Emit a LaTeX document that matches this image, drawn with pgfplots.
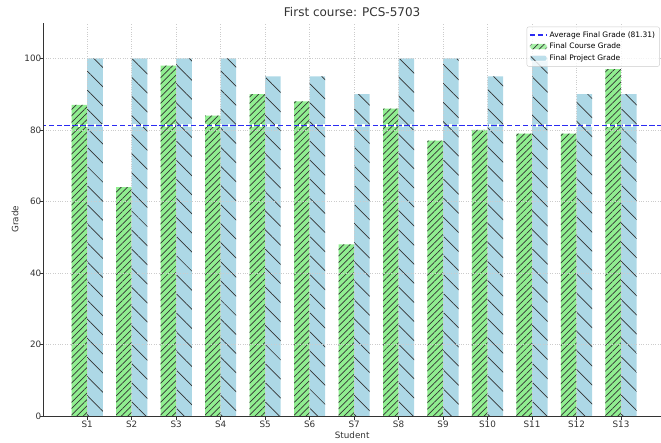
\documentclass[border=0pt]{standalone}
\usepackage{pgfplots}
\pgfplotsset{compat=1.18}
\usepackage{fontspec}
\setmainfont{DejaVu Sans}
\usetikzlibrary{patterns.meta}
\definecolor{lgreen}{HTML}{90EE90}
\definecolor{lblue}{HTML}{ADD8E6}
\definecolor{avgblue}{HTML}{2B2BF2}
\definecolor{txt}{HTML}{333333}
\begin{document}
\begin{tikzpicture}
\path[use as bounding box] (-43.3pt,-26pt) rectangle (617.7pt,416pt);
\begin{axis}[
  at={(0,0)}, anchor=south west,
  scale only axis,
  width=617.7pt, height=393.3pt,
  xmin=-0.988, xmax=12.9,
  ymin=0, ymax=110,
  axis on top,
  axis lines*=left,
  axis line style={black!80, line width=0.8pt},
  xtick={0,...,12},
  xticklabels={S1,S2,S3,S4,S5,S6,S7,S8,S9,S10,S11,S12,S13},
  ytick={0,20,40,60,80,100},
  tick style={black!80, line width=0.6pt},
  tick align=outside,
  major tick length=3.5pt,
  grid=major,
  grid style={dotted, black!20, line width=0.5pt},
  tick label style={font=\fontsize{8.8}{10}\selectfont, text=txt},
  yticklabel style={xshift=5pt},
  xticklabel style={yshift=2.5pt},
  /pgf/number format/assume math mode=true,
  xlabel={Student}, ylabel={Grade},
  every axis x label/.style={at={(axis description cs:0.5,0)}, anchor=center, yshift=-19.5pt},
  every axis y label/.style={at={([xshift=-28.3pt]axis description cs:0,0.5)}, rotate=90, anchor=center},
  label style={font=\fontsize{8.8}{10}\selectfont, text=txt},
  title={First course: PCS-5703},
  every axis title/.style={at={([yshift=10.7pt]axis description cs:0.5,1)}, anchor=center, font=\fontsize{12}{14}\selectfont, text=txt},
  legend style={at={(0.998,0.99)}, anchor=north east, font=\fontsize{7.5}{9}\selectfont,
    draw=black!20, fill=white, fill opacity=0.8, text opacity=1, rounded corners=2pt,
    row sep=0.5pt, inner sep=2.5pt},
  legend cell align=left,
  clip=false,
]
\addlegendimage{draw=avgblue, line width=1.2pt, dash pattern=on 5.5pt off 2.4pt}
\addlegendentry{Average Final Grade (81.31)}
\addlegendimage{area legend, fill=lgreen, draw=white,
  postaction={pattern={Lines[angle=45,distance=4.5pt,line width=0.7pt]}, pattern color=black!80}}
\addlegendentry{Final Course Grade}
\addlegendimage{area legend, fill=lblue, draw=white,
  postaction={pattern={Lines[angle=-45,distance=13.5pt,line width=0.7pt]}, pattern color=black!80}}
\addlegendentry{Final Project Grade}
\addplot[ybar, bar width=0.35, bar shift=-0.175, draw=none, fill=lgreen, forget plot,
  postaction={pattern={Lines[angle=45,distance=4.5pt,line width=0.7pt]}, pattern color=black!80}] coordinates {
(0,87) (1,64) (2,98) (3,84) (4,90) (5,88) (6,48) (7,86) (8,77) (9,80) (10,79) (11,79) (12,97)};
\addplot[ybar, bar width=0.35, bar shift=0.175, draw=none, fill=lblue, forget plot,
  postaction={pattern={Lines[angle=-45,distance=13.5pt,line width=0.7pt]}, pattern color=black!80}] coordinates {
(0,100) (1,100) (2,100) (3,100) (4,95) (5,95) (6,90) (7,100) (8,100) (9,95) (10,100) (11,90) (12,90)};
\addplot[draw=none, fill=avgblue, forget plot,
  postaction={pattern={Lines[angle=90,distance=7.9pt,line width=2.4pt]}, pattern color=white}]
  coordinates {(-0.988,81.10) (12.9,81.10) (12.9,81.52) (-0.988,81.52)} -- cycle;
\end{axis}
\end{tikzpicture}
\end{document}
